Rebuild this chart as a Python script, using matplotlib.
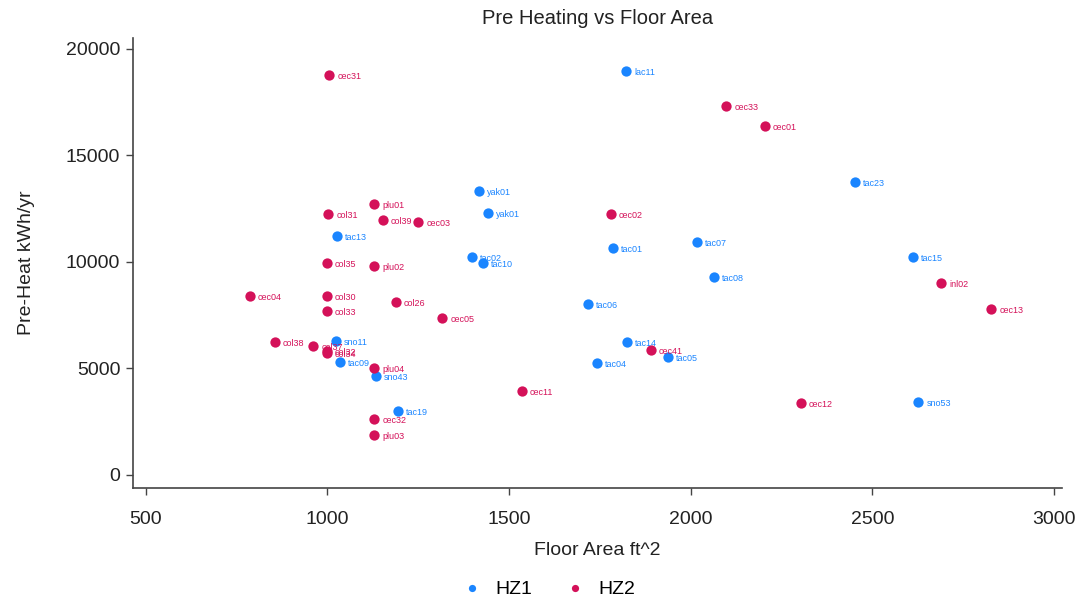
import matplotlib.pyplot as plt

plt.rcParams['font.family'] = ['Liberation Sans', 'DejaVu Sans']

# HZ1 homes
hz1_names = ['lac11', 'yak01', 'yak01', 'tac13', 'tac02', 'tac10', 'tac01', 'tac07',
             'tac08', 'tac23', 'tac15', 'sno53', 'tac06', 'tac14', 'tac05', 'tac04',
             'sno11', 'tac09', 'sno43', 'tac19']
hz1_area = [1822, 1417, 1442, 1026, 1398, 1428, 1786, 2017,
            2064, 2452, 2612, 2626, 1717, 1824, 1937, 1742,
            1023, 1034, 1133, 1194]
hz1_heat = [18970, 13330, 12300, 11220, 10240, 9950, 10660, 10940,
            9300, 13760, 10240, 3430, 8030, 6240, 5540, 5260,
            6290, 5300, 4650, 3000]

# HZ2 homes
hz2_names = ['cec31', 'cec33', 'cec01', 'plu01', 'col31', 'col39', 'cec03', 'cec02',
             'col35', 'plu02', 'cec04', 'col30', 'col26', 'col33', 'cec05', 'col38',
             'col37', 'col32', 'col34', 'plu04', 'cec32', 'plu03', 'cec11', 'cec41',
             'cec12', 'inl02', 'cec13']
hz2_area = [1005, 2097, 2204, 1128, 1001, 1152, 1249, 1780,
            998, 1128, 786, 998, 1188, 998, 1315, 855,
            960, 998, 998, 1128, 1128, 1128, 1535, 1890,
            2303, 2689, 2827]
hz2_heat = [18780, 17320, 16390, 12720, 12250, 11970, 11880, 12250,
            9950, 9810, 8400, 8400, 8120, 7700, 7370, 6240,
            6060, 5800, 5700, 5020, 2630, 1880, 3940, 5870,
            3380, 9010, 7790]

blue = '#1A85FF'
red = '#D41159'

fig = plt.figure(figsize=(10.88, 6.09), dpi=100)
ax = fig.add_axes([0.122, 0.199, 0.854, 0.739])

ax.scatter(hz1_area, hz1_heat, s=55, color=blue, label='HZ1', zorder=3, linewidths=0)
ax.scatter(hz2_area, hz2_heat, s=55, color=red, label='HZ2', zorder=3, linewidths=0)

for n, x, y in zip(hz1_names, hz1_area, hz1_heat):
    ax.annotate(n, (x, y), xytext=(6, -1), textcoords='offset points',
                fontsize=6.5, color=blue, va='center', ha='left')
for n, x, y in zip(hz2_names, hz2_area, hz2_heat):
    ax.annotate(n, (x, y), xytext=(6, -1), textcoords='offset points',
                fontsize=6.5, color=red, va='center', ha='left')

ax.set_xlim(464, 3022)
ax.set_ylim(-610, 20520)
ax.set_xticks([500, 1000, 1500, 2000, 2500, 3000])
ax.set_yticks([0, 5000, 10000, 15000, 20000])

for side in ['top', 'right']:
    ax.spines[side].set_visible(False)
for side in ['left', 'bottom']:
    ax.spines[side].set_color('#444444')
    ax.spines[side].set_linewidth(1.2)
ax.tick_params(direction='out', length=5, width=1, colors='#444444',
               labelsize=14, labelcolor='#222222')
ax.tick_params(axis='x', pad=12)
ax.tick_params(axis='y', pad=4)

ax.set_title('Pre Heating vs Floor Area', fontsize=14.5, color='#222222', pad=10)
ax.set_xlabel('Floor Area ft^2', fontsize=14, color='#222222', labelpad=10)
ax.set_ylabel('Pre-Heat kWh/yr', fontsize=14, color='#222222', labelpad=22)

fig.legend(loc='lower center', bbox_to_anchor=(0.5, -0.01), ncol=2, frameon=False,
           fontsize=14, markerscale=0.7, handletextpad=0.2, columnspacing=1.2)

fig.savefig('out.png', dpi=100)
